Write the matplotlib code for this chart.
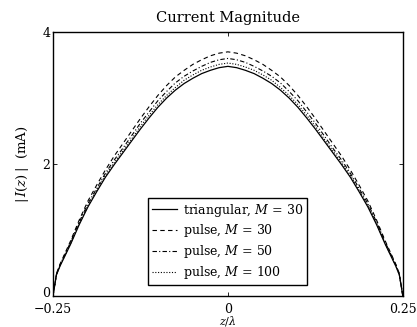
import matplotlib
matplotlib.use('Agg')
import matplotlib.pyplot as plt
import matplotlib.transforms as mtransforms

plt.rcParams['font.family'] = 'DejaVu Serif'
plt.rcParams['mathtext.fontset'] = 'dejavuserif'

# z/lambda sample points
z = [-0.25, -0.245, -0.24, -0.225, -0.2125, -0.2, -0.1875, -0.175, -0.1625, -0.15, -0.1375,
     -0.125, -0.1125, -0.1, -0.0875, -0.075, -0.0625, -0.05, -0.0375, -0.025, -0.0125, 0.0,
     0.0125, 0.025, 0.0375, 0.05, 0.0625, 0.075, 0.0875, 0.1, 0.1125, 0.125,
     0.1375, 0.15, 0.1625, 0.175, 0.1875, 0.2, 0.2125, 0.225, 0.24, 0.245, 0.25]

# |I(z)| in mA
tri_30 = [0.0, 0.32, 0.45, 0.78, 1.08, 1.35, 1.58, 1.80, 1.99, 2.17, 2.35,
          2.53, 2.70, 2.86, 3.00, 3.12, 3.22, 3.30, 3.37, 3.42, 3.46, 3.48,
          3.46, 3.42, 3.37, 3.30, 3.22, 3.12, 3.00, 2.86, 2.70, 2.53,
          2.35, 2.17, 1.99, 1.80, 1.58, 1.35, 1.08, 0.78, 0.45, 0.32, 0.0]
pulse_30 = [0.0, 0.34, 0.48, 0.83, 1.15, 1.44, 1.68, 1.91, 2.12, 2.31, 2.50,
            2.69, 2.87, 3.04, 3.19, 3.32, 3.42, 3.51, 3.58, 3.64, 3.68, 3.70,
            3.68, 3.64, 3.58, 3.51, 3.42, 3.32, 3.19, 3.04, 2.87, 2.69,
            2.50, 2.31, 2.12, 1.91, 1.68, 1.44, 1.15, 0.83, 0.48, 0.34, 0.0]
pulse_50 = [0.0, 0.33, 0.47, 0.81, 1.12, 1.40, 1.63, 1.86, 2.06, 2.24, 2.43,
            2.62, 2.79, 2.96, 3.10, 3.23, 3.33, 3.41, 3.48, 3.54, 3.58, 3.60,
            3.58, 3.54, 3.48, 3.41, 3.33, 3.23, 3.10, 2.96, 2.79, 2.62,
            2.43, 2.24, 2.06, 1.86, 1.63, 1.40, 1.12, 0.81, 0.47, 0.33, 0.0]
pulse_100 = [0.0, 0.32, 0.46, 0.79, 1.10, 1.37, 1.60, 1.83, 2.02, 2.20, 2.38,
             2.57, 2.74, 2.90, 3.04, 3.16, 3.27, 3.35, 3.42, 3.47, 3.51, 3.53,
             3.51, 3.47, 3.42, 3.35, 3.27, 3.16, 3.04, 2.90, 2.74, 2.57,
             2.38, 2.20, 2.02, 1.83, 1.60, 1.37, 1.10, 0.79, 0.46, 0.32, 0.0]

fig = plt.figure(figsize=(4.17, 3.27), dpi=100)
ax = fig.add_axes([0.127, 0.095, 0.839, 0.807])

ax.plot(z, tri_30, 'k-', lw=0.9, label=r'triangular, $M$ = 30')
ax.plot(z, pulse_30, 'k--', lw=0.8, dashes=(4, 3), label=r'pulse, $M$ = 30')
ax.plot(z, pulse_50, 'k-.', lw=0.8, dashes=(4, 2, 1, 2), label=r'pulse, $M$ = 50')
ax.plot(z, pulse_100, 'k:', lw=0.8, dashes=(1, 1.5), label=r'pulse, $M$ = 100')

ax.set_xlim(-0.25, 0.25)
ax.set_ylim(0, 4)
ax.set_xticks([-0.25, 0, 0.25])
ax.set_xticklabels(['\u22120.25', '0', '0.25'])
ax.set_yticks([0, 2, 4])
ax.tick_params(direction='in', top=True, right=True, length=3, width=0.6,
               labelsize=9, pad=2)
ax.tick_params(axis='x', pad=5)
for s in ax.spines.values():
    s.set_linewidth(1.0)

# nudge the y "0" label up a little so it clears the corner x label
fig.canvas.draw()
lab0 = ax.get_yticklabels()[0]
lab0.set_transform(lab0.get_transform() +
                   mtransforms.ScaledTranslation(0, 3 / 72, fig.dpi_scale_trans))

ax.set_title('Current Magnitude', fontsize=10.5, pad=7)
ax.set_xlabel(r'$z/\lambda$', fontsize=8, labelpad=-1)
ax.set_ylabel(r'$|\,I(z)\,|$  (mA)', fontsize=9.5, labelpad=8)

leg = ax.legend(loc='lower center', fontsize=9, handlelength=2.0,
                handletextpad=0.5, borderpad=0.3, labelspacing=0.3,
                borderaxespad=0.9, fancybox=False, framealpha=1)
leg.get_frame().set_edgecolor('black')
leg.get_frame().set_linewidth(1.0)

fig.savefig('out.png', dpi=100)
